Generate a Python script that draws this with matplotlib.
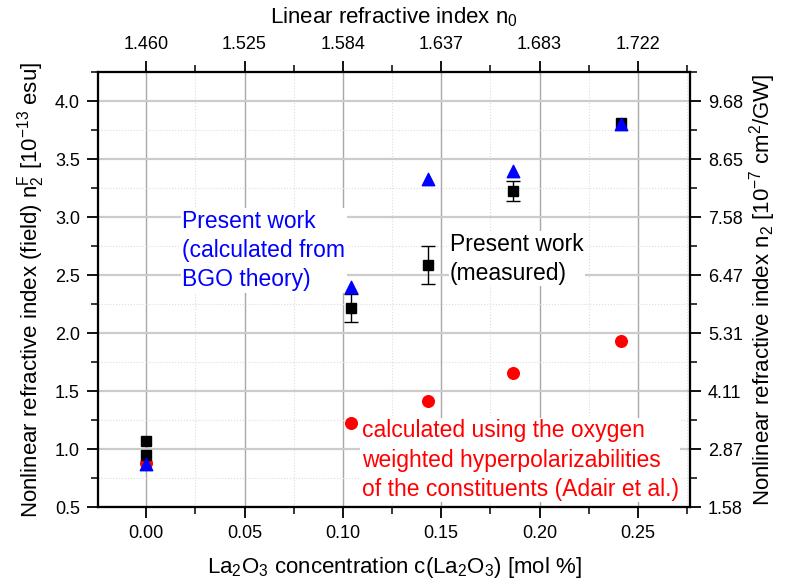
import matplotlib
matplotlib.use("Agg")
import matplotlib.pyplot as plt
from matplotlib.ticker import MultipleLocator, FixedLocator, FormatStrFormatter

plt.rcParams['font.family'] = ['Liberation Sans', 'DejaVu Sans']
plt.rcParams['mathtext.fontset'] = 'custom'
plt.rcParams['mathtext.rm'] = 'Liberation Sans'
plt.rcParams['mathtext.it'] = 'Liberation Sans'
plt.rcParams['mathtext.default'] = 'regular'

# measured (black squares)
meas_x = [0.0, 0.0, 0.104, 0.1435, 0.1866, 0.2414]
meas_y = [1.07, 0.945, 2.215, 2.585, 3.225, 3.81]
meas_err = [0.0, 0.0, 0.12, 0.165, 0.085, 0.0]
# BGO theory (blue triangles)
bgo_x = [0.0, 0.104, 0.1435, 0.1866, 0.2414]
bgo_y = [0.875, 2.40, 3.33, 3.40, 3.80]
# Adair (red circles)
adair_x = [0.0, 0.104, 0.1435, 0.1866, 0.2414]
adair_y = [0.88, 1.225, 1.415, 1.655, 1.93]

top_ticks = [0.0, 0.05, 0.10, 0.15, 0.20, 0.25]
top_labels = ['1.460', '1.525', '1.584', '1.637', '1.683', '1.722']
right_ticks = [0.5, 1.0, 1.5, 2.0, 2.5, 3.0, 3.5, 4.0]
right_labels = ['1.58', '2.87', '4.11', '5.31', '6.47', '7.58', '8.65', '9.68']

fig = plt.figure(figsize=(7.86, 5.88), dpi=100)
ax = fig.add_axes([98/786, 1-507/588, (690-98)/786, (507-72)/588])

ax.set_xlim(-0.0245, 0.2765)
ax.set_ylim(0.5, 4.25)

ax.xaxis.set_major_locator(MultipleLocator(0.05))
ax.xaxis.set_minor_locator(MultipleLocator(0.025))
ax.yaxis.set_major_locator(MultipleLocator(0.5))
ax.yaxis.set_minor_locator(MultipleLocator(0.25))
ax.xaxis.set_major_formatter(FormatStrFormatter('%.2f'))
ax.yaxis.set_major_formatter(FormatStrFormatter('%.1f'))

ax.grid(True, which='major', axis='x', color='#a8a8a8', lw=1.0)
ax.grid(True, which='major', axis='y', color='#cccccc', lw=1.6)
ax.grid(True, which='minor', color='#dddddd', lw=0.8, ls=':')
ax.set_axisbelow(True)

for s in ax.spines.values():
    s.set_linewidth(1.5)

TS = 13
ax.tick_params(which='major', direction='out', length=8, width=1.3, labelsize=TS, pad=5)
ax.tick_params(which='minor', direction='out', length=5, width=1.1)

ax.scatter(adair_x, adair_y, marker='o', s=70, color='#ff0000', edgecolors='#ff0000', zorder=3)
ex = [x for x, e in zip(meas_x, meas_err) if e > 0]
ey = [y for y, e in zip(meas_y, meas_err) if e > 0]
ee = [e for e in meas_err if e > 0]
ax.errorbar(ex, ey, yerr=ee, fmt='none', ecolor='black', elinewidth=1.0,
            capsize=5, capthick=1.0, zorder=4)
ax.plot(meas_x, meas_y, 's', ms=7.5, color='black', zorder=4)
ax.scatter(bgo_x, bgo_y, marker='^', s=80, color='#0000ff', edgecolors='#0000ff', zorder=5)

ax.set_xlabel('La$_2$O$_3$ concentration c(La$_2$O$_3$) [mol %]', fontsize=16, labelpad=9)
ax.set_ylabel('Nonlinear refractive index (field) n$_2^F$ [10$^{-13}$ esu]', fontsize=16, labelpad=6)

# top axis
axt = ax.twiny()
axt.set_xlim(ax.get_xlim())
axt.xaxis.set_major_locator(FixedLocator(top_ticks))
axt.set_xticklabels(top_labels)
axt.xaxis.set_minor_locator(MultipleLocator(0.025))
axt.tick_params(which='major', direction='out', length=8, width=1.3, labelsize=TS, pad=6)
axt.tick_params(which='minor', direction='out', length=5, width=1.1)
axt.set_xlabel('Linear refractive index n$_0$', fontsize=16, labelpad=9)

# right axis
axr = ax.twinx()
axr.set_ylim(ax.get_ylim())
axr.yaxis.set_major_locator(FixedLocator(right_ticks))
axr.set_yticklabels(right_labels)
axr.yaxis.set_minor_locator(MultipleLocator(0.25))
axr.tick_params(which='major', direction='out', length=8, width=1.3, labelsize=TS, pad=5)
axr.tick_params(which='minor', direction='out', length=5, width=1.1)
axr.set_ylabel('Nonlinear refractive index n$_2$ [10$^{-7}$ cm$^2$/GW]', fontsize=16, labelpad=3)
for a in (axt, axr):
    for s in a.spines.values():
        s.set_linewidth(1.5)

bbox = dict(facecolor='white', edgecolor='none', pad=1)
FS = 16.5
LS = 1.35
ax.text(0.0183, 2.71, 'Present work\n(calculated from\nBGO theory)', color='#0000ff',
        fontsize=FS, va='center', ha='left', linespacing=LS, bbox=bbox, zorder=2)
ax.text(0.1545, 2.64, 'Present work\n(measured)', color='black',
        fontsize=FS, va='center', ha='left', linespacing=LS, bbox=bbox, zorder=2)
ax.text(0.1095, 0.905, 'calculated using the oxygen\nweighted hyperpolarizabilities\nof the constituents (Adair et al.)',
        color='#ff0000', fontsize=FS, va='center', ha='left', linespacing=LS, bbox=bbox, zorder=2)

fig.savefig('out.png', dpi=100)
